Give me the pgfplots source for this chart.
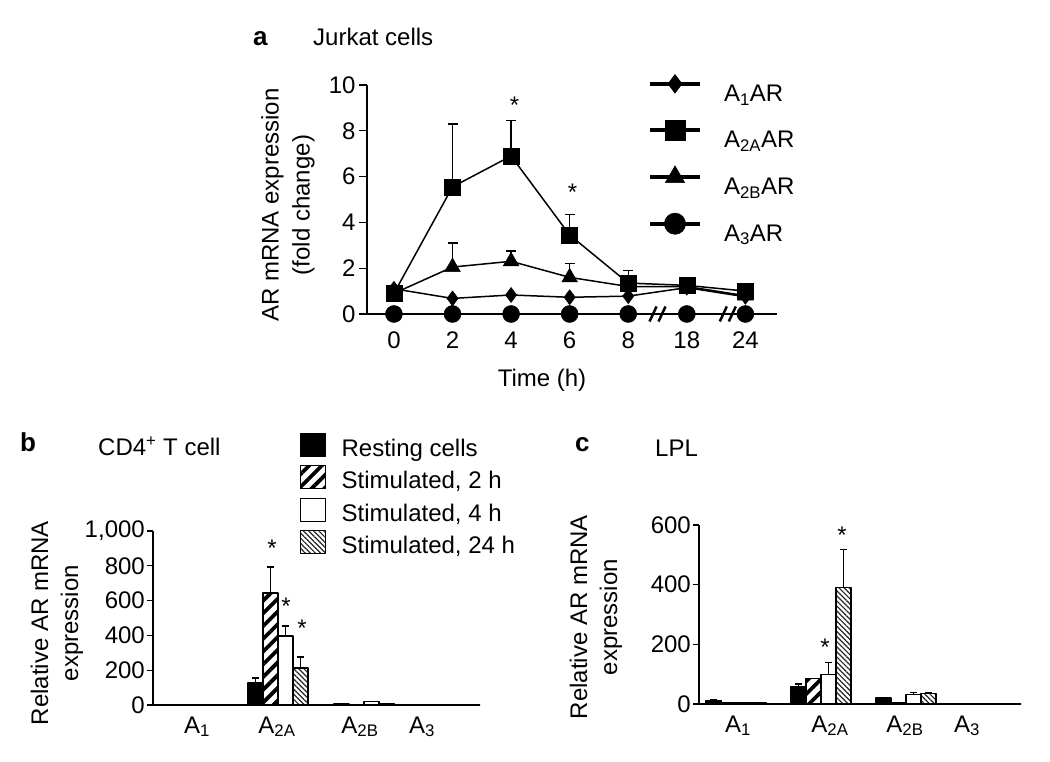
\documentclass[border=0pt]{standalone}
\usepackage{fontspec}
\setmainfont{Liberation Sans}
\usepackage{pgfplots}
\usepackage{pgfplotstable}
\pgfplotsset{compat=1.18}
\usetikzlibrary{patterns.meta}
\newcommand\fs{\fontsize{24}{29}\selectfont}

% Panel a
\pgfplotstableread{
x y e
0 1.10 0
1 0.68 0
2 0.83 0
3 0.73 0
4 0.78 0
5 1.15 0
6 0.75 0
}\tAone
\pgfplotstableread{
x y e
0 0.90 0
1 5.55 2.75
2 6.90 1.55
3 3.45 0.90
4 1.35 0.55
5 1.25 0.20
6 1.00 0.10
}\tAtwoA
\pgfplotstableread{
x y e
0 0.90 0
1 2.05 1.05
2 2.30 0.45
3 1.60 0.60
4 1.20 0
5 1.20 0.35
6 0.80 0
}\tAtwoB
\pgfplotstableread{
x y
0 0
1 0
2 0
3 0
4 0
5 0
6 0
}\tAthree

% Panel b
\pgfplotstableread{
x y e
192 1 0
278 126 29
364 6 0
450 0 0
}\bRest
\pgfplotstableread{
x y e
192 1 0
278 644 149
364 5 0
450 0 0
}\bTwo
\pgfplotstableread{
x y e
192 1 0
278 397 57
364 18 3
450 0 0
}\bFour
\pgfplotstableread{
x y e
192 1 0
278 213 63
364 9 0
450 0 0
}\bTwentyFour

% Panel c
\pgfplotstableread{
x y e
736 12 2
821 58 9
906 20 3
991 0 0
}\cRest
\pgfplotstableread{
x y e
736 5 0
821 85 0
906 6 0
991 0 0
}\cTwo
\pgfplotstableread{
x y e
736 5 0
821 100 38
906 31 8
991 0 0
}\cFour
\pgfplotstableread{
x y e
736 5 0
821 391 126
906 34 3
991 0 0
}\cTwentyFour

\pgfplotsset{
  common/.style={
    scale only axis, enlargelimits=false, clip=false,
    axis x line=bottom, axis y line=left,
    axis line style={-, line width=1.3pt, black},
    tick align=outside, major tick length=7pt,
    tick style={line width=1.3pt, black},
    xtick style={draw=none},
    tick label style={font=\fs},
    /pgf/number format/assume math mode=true,
  },
  barpanel/.style={
    common,
    ybar=0pt, bar width=15pt,
    xticklabels={A\textsubscript{1}, A\textsubscript{2A}, A\textsubscript{2B}, A\textsubscript{3}},
    xticklabel style={yshift=-2pt},
    yticklabel style={inner sep=2pt},
    error bars/y dir=plus, error bars/y explicit,
    error bars/error bar style={line width=1.2pt, black},
    error bars/error mark options={rotate=90, mark size=3.5pt, line width=1.2pt, black},
    legend cell align=left,
    legend image code/.code={\draw[#1, line width=1.2pt] (0pt,-8pt) rectangle (25pt,15pt); \path[draw=none, fill=none] (0pt,0pt) -- (41pt,0pt);},
  },
  rest/.style={draw=black, fill=black, line width=1.2pt, line join=bevel},
  stwo/.style={draw=black, line width=1.2pt, line join=bevel, pattern={Lines[angle=45, distance=9pt, line width=3.8pt]}, pattern color=black},
  sfour/.style={draw=black, fill=white, line width=1.2pt, line join=bevel},
  stf/.style={draw=black, line width=1.2pt, line join=bevel, pattern={Lines[angle=-45, distance=3.6pt, line width=1.2pt]}, pattern color=black!85},
  lineplot/.style={black, line width=1.5pt, mark options={solid, line width=0.5pt}},
}

\begin{document}
\begin{tikzpicture}
\path[use as bounding box] (0pt,0pt) rectangle (1050pt,762pt);

% ---------------- Panel a ----------------
\begin{axis}[common,
  at={(367pt,448pt)}, anchor=south west, width=410pt, height=229pt,
  xmin=-0.46, xmax=6.54, ymin=0, ymax=10,
  xtick={0,1,2,3,4,5,6}, xticklabels={0,2,4,6,8,18,24},
  ytick={0,2,4,6,8,10},
  major tick length=8pt,
  xticklabel style={yshift=-6pt},
  error bars/y dir=plus, error bars/y explicit,
  error bars/error bar style={line width=1.3pt, black},
  error bars/error mark options={rotate=90, mark size=5pt, line width=1.3pt, black},
  legend cell align=left,
  legend style={at={(0.6854,1.046)}, anchor=north west, draw=none, fill=none,
    inner sep=0pt, outer sep=0pt, row sep=17pt, column sep=0pt, font=\fs,
    nodes={inner sep=0pt}},
  legend image code/.code={\draw[#1, line width=4pt, mark repeat=2, mark phase=2, mark options={solid, line width=0.5pt, scale=1.25}] plot coordinates {(0pt,10pt) (25pt,10pt) (50pt,10pt)}; \path[draw=none, fill=none] (0pt,0pt) -- (74pt,0pt);},
]
\addplot[lineplot, mark=diamond*, mark size=7.5pt] table[x=x,y=y] {\tAone};
\addlegendentry{A\textsubscript{1}AR}
\addplot[lineplot, mark=square*, mark size=8pt] table[x=x,y=y,y error=e] {\tAtwoA};
\addlegendentry{A\textsubscript{2A}AR}
\addplot[lineplot, mark=triangle*, mark size=9pt] table[x=x,y=y,y error=e] {\tAtwoB};
\addlegendentry{A\textsubscript{2B}AR}
\addplot[lineplot, mark=*, mark size=8.5pt] table[x=x,y=y] {\tAthree};
\addlegendentry{A\textsubscript{3}AR}
\node[font=\fs] at (axis cs:2.06,9.13) {*};
\node[font=\fs] at (axis cs:3.05,5.33) {*};
\draw[line width=2.5pt] ([xshift=-8pt,yshift=-7.5pt]axis cs:4.5,0) -- ([xshift=-1pt,yshift=7.5pt]axis cs:4.5,0);
\draw[line width=2.5pt] ([xshift=1pt,yshift=-7.5pt]axis cs:4.5,0) -- ([xshift=8pt,yshift=7.5pt]axis cs:4.5,0);
\draw[line width=2.5pt] ([xshift=-8pt,yshift=-7.5pt]axis cs:5.7,0) -- ([xshift=-1pt,yshift=7.5pt]axis cs:5.7,0);
\draw[line width=2.5pt] ([xshift=1pt,yshift=-7.5pt]axis cs:5.7,0) -- ([xshift=8pt,yshift=7.5pt]axis cs:5.7,0);
\end{axis}

% ---------------- Panel b ----------------
\begin{axis}[barpanel,
  at={(153pt,57pt)}, anchor=south west, width=324pt, height=174pt,
  xmin=153, xmax=477, ymin=0, ymax=1000,
  xtick={197,277,360,422},
  ytick={0,200,400,600,800,1000}, yticklabels={0,200,400,600,800,{1,000}},
  major tick length=6pt,
  legend style={at={(0.4537,1.566)}, anchor=north west, draw=none, fill=none,
    inner sep=0pt, outer sep=0pt, row sep=7.5pt, column sep=0pt, font=\fs,
    nodes={inner sep=0pt}},
]
\addplot[rest] table[x=x,y=y,y error=e] {\bRest};
\addlegendentry{Resting cells}
\addplot[stwo] table[x=x,y=y,y error=e] {\bTwo};
\addlegendentry{Stimulated, 2 h}
\addplot[sfour] table[x=x,y=y,y error=e] {\bFour};
\addlegendentry{Stimulated, 4 h}
\addplot[stf] table[x=x,y=y,y error=e] {\bTwentyFour};
\addlegendentry{Stimulated, 24 h}
\node[font=\fs] at (axis cs:272,902) {*};
\node[font=\fs] at (axis cs:286,569) {*};
\node[font=\fs] at (axis cs:302,443) {*};
\end{axis}

% ---------------- Panel c ----------------
\begin{axis}[barpanel,
  at={(699pt,58pt)}, anchor=south west, width=316pt, height=179pt,
  xmin=699, xmax=1015, ymin=0, ymax=600,
  xtick={738,830,905,967},
  ytick={0,200,400,600},
  major tick length=6pt,
]
\addplot[rest] table[x=x,y=y,y error=e] {\cRest};
\addplot[stwo] table[x=x,y=y,y error=e] {\cTwo};
\addplot[sfour] table[x=x,y=y,y error=e] {\cFour};
\addplot[stf] table[x=x,y=y,y error=e] {\cTwentyFour};
\node[font=\fs] at (axis cs:825,191) {*};
\node[font=\fs] at (axis cs:842,566) {*};
\end{axis}

% ---------------- Titles and labels ----------------
\node[anchor=base west, inner sep=0pt, font=\fontsize{26}{30}\selectfont\bfseries] at (253pt,716pt) {a};
\node[anchor=base west, inner sep=0pt, font=\fs] at (313pt,716pt) {Jurkat cells};
\node[rotate=90, align=center, inner sep=0pt, font=\fontsize{24}{31}\selectfont] at (288pt,557pt) {AR mRNA expression\\(fold change)};
\node[anchor=base, inner sep=0pt, font=\fs] at (542pt,375pt) {Time (h)};

\node[anchor=base west, inner sep=0pt, font=\fontsize{26}{30}\selectfont\bfseries] at (20pt,310pt) {b};
\node[anchor=base west, inner sep=0pt, font=\fs] at (98pt,306pt) {CD4\textsuperscript{+} T cell};
\node[rotate=90, align=center, inner sep=0pt, font=\fontsize{24}{30}\selectfont] at (57pt,139pt) {Relative AR mRNA\\expression};

\node[anchor=base west, inner sep=0pt, font=\fontsize{26}{30}\selectfont\bfseries] at (575pt,310pt) {c};
\node[anchor=base west, inner sep=0pt, font=\fs] at (655pt,305pt) {LPL};
\node[rotate=90, align=center, inner sep=0pt, font=\fontsize{24}{30}\selectfont] at (596pt,145pt) {Relative AR mRNA\\expression};
\end{tikzpicture}
\end{document}
